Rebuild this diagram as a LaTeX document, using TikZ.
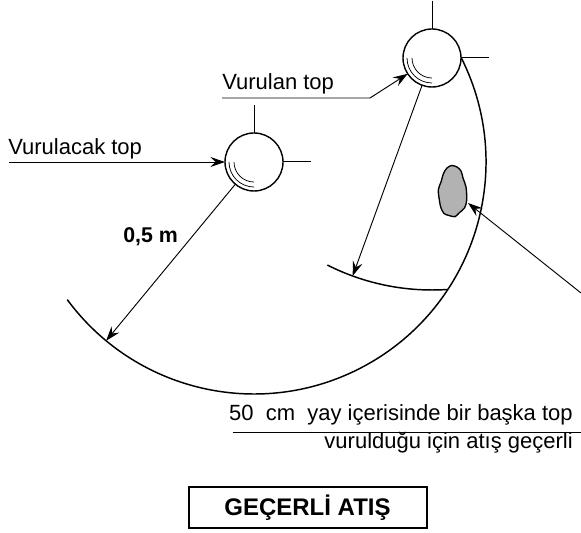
\documentclass[tikz,border=0pt]{standalone}
\usepackage{fontspec}
\setmainfont{Liberation Sans}
\usetikzlibrary{arrows.meta,calc}
\definecolor{blobgray}{RGB}{178,178,178}
\tikzset{
  ball/.style={circle,draw,line width=1.05pt,minimum size=43.5pt,inner sep=0pt,outer sep=0pt},
  pointer/.style={line width=0.7pt,-{Stealth[length=11pt,width=7.5pt,inset=4pt]}},
  thinline/.style={line width=0.75pt},
  bigarc/.style={line width=1.1pt},
  label/.style={inner sep=0pt,anchor=base west,font=\fontsize{16.5}{19}\selectfont},
}
\begin{document}
\begin{tikzpicture}[x=0.75pt,y=0.75pt]
  \useasboundingbox (0,0) rectangle (581,532);
  \def\rbig{174pt}
  \node[ball] (ball1) at (254,370) {};
  \node[ball] (ball2) at (432,474) {};
  \foreach \b in {ball1,ball2} {
    \draw[thinline] (\b.north) -- ++(0,28);
    \draw[thinline] (\b.east) -- ++(28,0);
    \draw[line width=0.55pt] ($(\b)+(180:18.75pt)$) arc[start angle=180,end angle=270,radius=18.75pt];
    \draw[line width=0.55pt] ($(\b)+(180:15pt)$) arc[start angle=180,end angle=270,radius=15pt];
  }
  % radius arcs
  \draw[bigarc] ($(ball1)+(26.7:\rbig)$) arc[start angle=26.7,end angle=-143.6,radius=\rbig];
  \draw[bigarc] ($(ball2)+(243.2:\rbig)$) arc[start angle=243.2,end angle=273.9,radius=\rbig];
  \coordinate (endone) at ($(ball1)+(230.4:\rbig)$);
  \coordinate (endtwo) at ($(ball2)+(250:\rbig)$);
  \draw[pointer] (ball1.230) -- (endone);
  \draw[pointer] (ball2.250) -- (endtwo);
  % blob
  \draw[fill=blobgray,line width=1pt] plot[smooth cycle,tension=0.5] coordinates {
    (451.7,366.5) (457,365) (461,361) (463,354) (466,345) (466.7,332) (464.5,324) (459,319) (455,315.3)
    (449,316.5) (444,318.5) (441,324) (439.5,331) (438.3,342) (441,350) (443.5,358.5) (447,364)};
  \coordinate (blobtip) at (468,329);
  \coordinate (noteend) at (581,239);
  \draw[pointer] (noteend) -- (blobtip);
  % labels
  \node[label] (lblone) at (8,377) {Vurulacak top};
  \coordinate (lineone) at (9,370);
  \draw[pointer] (lineone) -- (ball1.west);
  \node[label] (lbltwo) at (222,442) {Vurulan top};
  \coordinate (linetwo) at (222,434);
  \coordinate (bendtwo) at (370,434);
  \draw[pointer] (linetwo) -- (bendtwo) -- (ball2.213);
  \node[label,font=\fontsize{16}{19}\selectfont\bfseries] (lblm) at (123,289) {0,5 m};
  \node[label,anchor=base east] (noteup) at (573,112) {50\ \ cm\ \ yay içerisinde bir başka top};
  \node[label,anchor=base east] (notedown) at (573,84) {vurulduğu için atış geçerli};
  \coordinate (rulea) at (233,100);
  \coordinate (ruleb) at (581,100);
  \draw[thinline] (rulea) -- (ruleb);
  \node[draw,line width=1.5pt,minimum width=178.5pt,minimum height=30.5pt,inner sep=0pt,
        font=\fontsize{18}{21}\selectfont\bfseries] (result) at (307.5,24.5) {GEÇERLİ ATIŞ};
\end{tikzpicture}
\end{document}
